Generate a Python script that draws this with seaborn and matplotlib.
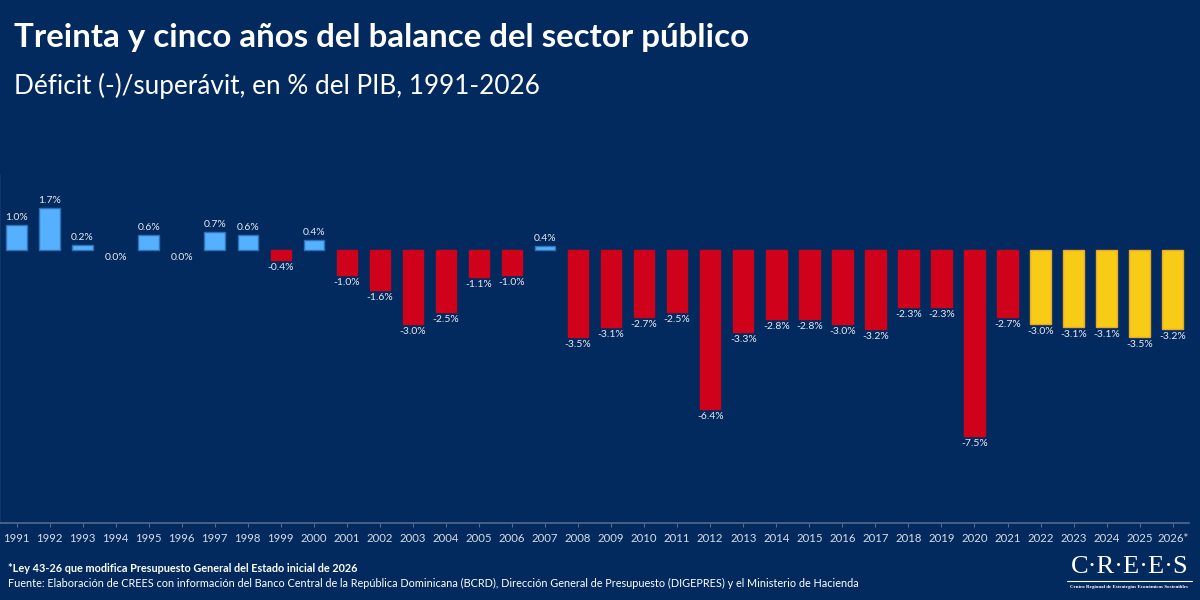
import numpy as np
import pandas as pd
import seaborn as sns
import matplotlib
matplotlib.use("Agg")
from matplotlib import pyplot as plt
from matplotlib.lines import Line2D

# datos: balance del sector público, % del PIB
years = ["1991", "1992", "1993", "1994", "1995", "1996", "1997", "1998", "1999", "2000",
         "2001", "2002", "2003", "2004", "2005", "2006", "2007", "2008", "2009", "2010",
         "2011", "2012", "2013", "2014", "2015", "2016", "2017", "2018", "2019", "2020",
         "2021", "2022", "2023", "2024", "2025", "2026*"]
balance = [1.0, 1.7, 0.2, 0.0, 0.6, 0.0, 0.7, 0.6, -0.4, 0.4,
           -1.0, -1.6, -3.0, -2.5, -1.1, -1.0, 0.16, -3.5, -3.1, -2.7,
           -2.5, -6.4, -3.3, -2.8, -2.8, -3.0, -3.2, -2.3, -2.3, -7.5,
           -2.7, -3.0, -3.1, -3.1, -3.5, -3.2]
etiquetas = ["1.0%", "1.7%", "0.2%", "0.0%", "0.6%", "0.0%", "0.7%", "0.6%", "-0.4%", "0.4%",
             "-1.0%", "-1.6%", "-3.0%", "-2.5%", "-1.1%", "-1.0%", "0.4%", "-3.5%", "-3.1%", "-2.7%",
             "-2.5%", "-6.4%", "-3.3%", "-2.8%", "-2.8%", "-3.0%", "-3.2%", "-2.3%", "-2.3%", "-7.5%",
             "-2.7%", "-3.0%", "-3.1%", "-3.1%", "-3.5%", "-3.2%"]
# superávit / déficit / proyección
grupo = ["sup" if v >= 0 else ("def" if i < 31 else "proy") for i, v in enumerate(balance)]

BG = "#032a5e"
colores = {"sup": "#55b0fd", "def": "#d0021b", "proy": "#f8cb17"}
bordes = {"sup": "#2f72b8", "def": "#d0021b", "proy": "#e8a82a"}

df = pd.DataFrame({"anio": years, "valor": balance, "grupo": grupo})

sns.set_style("dark")
plt.rcParams['font.family'] = ['Lato', 'DejaVu Sans']

fig = plt.figure(figsize=(12, 6), dpi=100, facecolor=BG)
ax = fig.add_axes([0.0, 0.128, 0.991, 0.58])
ax.set_facecolor(BG)

sns.barplot(data=df, x="anio", y="valor", hue="grupo", palette=colores,
            dodge=False, legend=False, width=0.62, ax=ax, saturation=1)

# bordes por barra según grupo
barras = sorted([p for p in ax.patches if p.get_width() > 0], key=lambda r: r.get_x())
for p, g, v in zip(barras, grupo, balance):
    p.set_edgecolor(bordes[g])
    p.set_linewidth(1.0 if v != 0 else 0)

# etiquetas de datos
for i, (v, t) in enumerate(zip(balance, etiquetas)):
    if v > 0:
        ax.text(i, v + 0.12, t, ha="center", va="bottom", color="#e6eaf2", fontsize=7.5)
    else:
        ax.text(i, v - 0.12, t, ha="center", va="top", color="#e6eaf2", fontsize=7.5)

ax.set_ylim(-11, 3)
ax.set_xlim(-0.5, 35.5)
ax.set_xlabel("")
ax.set_ylabel("")
ax.set_yticks([])
ax.grid(False)
ax.tick_params(axis="x", colors="#52698e", labelcolor="#d6dce8", labelsize=8.2,
               length=3, width=0.8, pad=4, bottom=True)
for s in ["top", "right"]:
    ax.spines[s].set_visible(False)
ax.spines["bottom"].set_color("#52698e")
ax.spines["bottom"].set_linewidth(1.2)
ax.spines["left"].set_color("#0f366c")
ax.spines["left"].set_linewidth(1.5)

# títulos
fig.text(0.012, 0.938, "Treinta y cinco años del balance del sector público",
         color="white", fontsize=23.8, fontweight="bold", va="center")
fig.text(0.012, 0.857, "Déficit (-)/superávit, en % del PIB, 1991-2026",
         color="white", fontsize=18.8, va="center")

# notas
fig.text(0.007, 0.052, "*Ley 43-26 que modifica Presupuesto General del Estado inicial de 2026",
         color="white", fontsize=7.85, fontweight="bold", va="center")
fig.text(0.007, 0.028, "Fuente: Elaboración de CREES con información del Banco Central de la República Dominicana (BCRD), "
         "Dirección General de Presupuesto (DIGEPRES) y el Ministerio de Hacienda",
         color="white", fontsize=7.85, va="center")

# logo
fig.text(0.941, 0.055, "C·R·E·E·S", color="white", fontsize=19, ha="center", va="center",
         family=["Liberation Serif", "DejaVu Serif"])
fig.add_artist(Line2D([0.889, 0.993], [0.031, 0.031], color="white", lw=0.8))
fig.text(0.941, 0.022, "Centro Regional de Estrategias Económicas Sostenibles", color="white",
         fontsize=3.6, ha="center", va="center", fontweight="bold",
         family=["Liberation Serif", "DejaVu Serif"])

fig.savefig("out.png", dpi=100, facecolor=BG)
